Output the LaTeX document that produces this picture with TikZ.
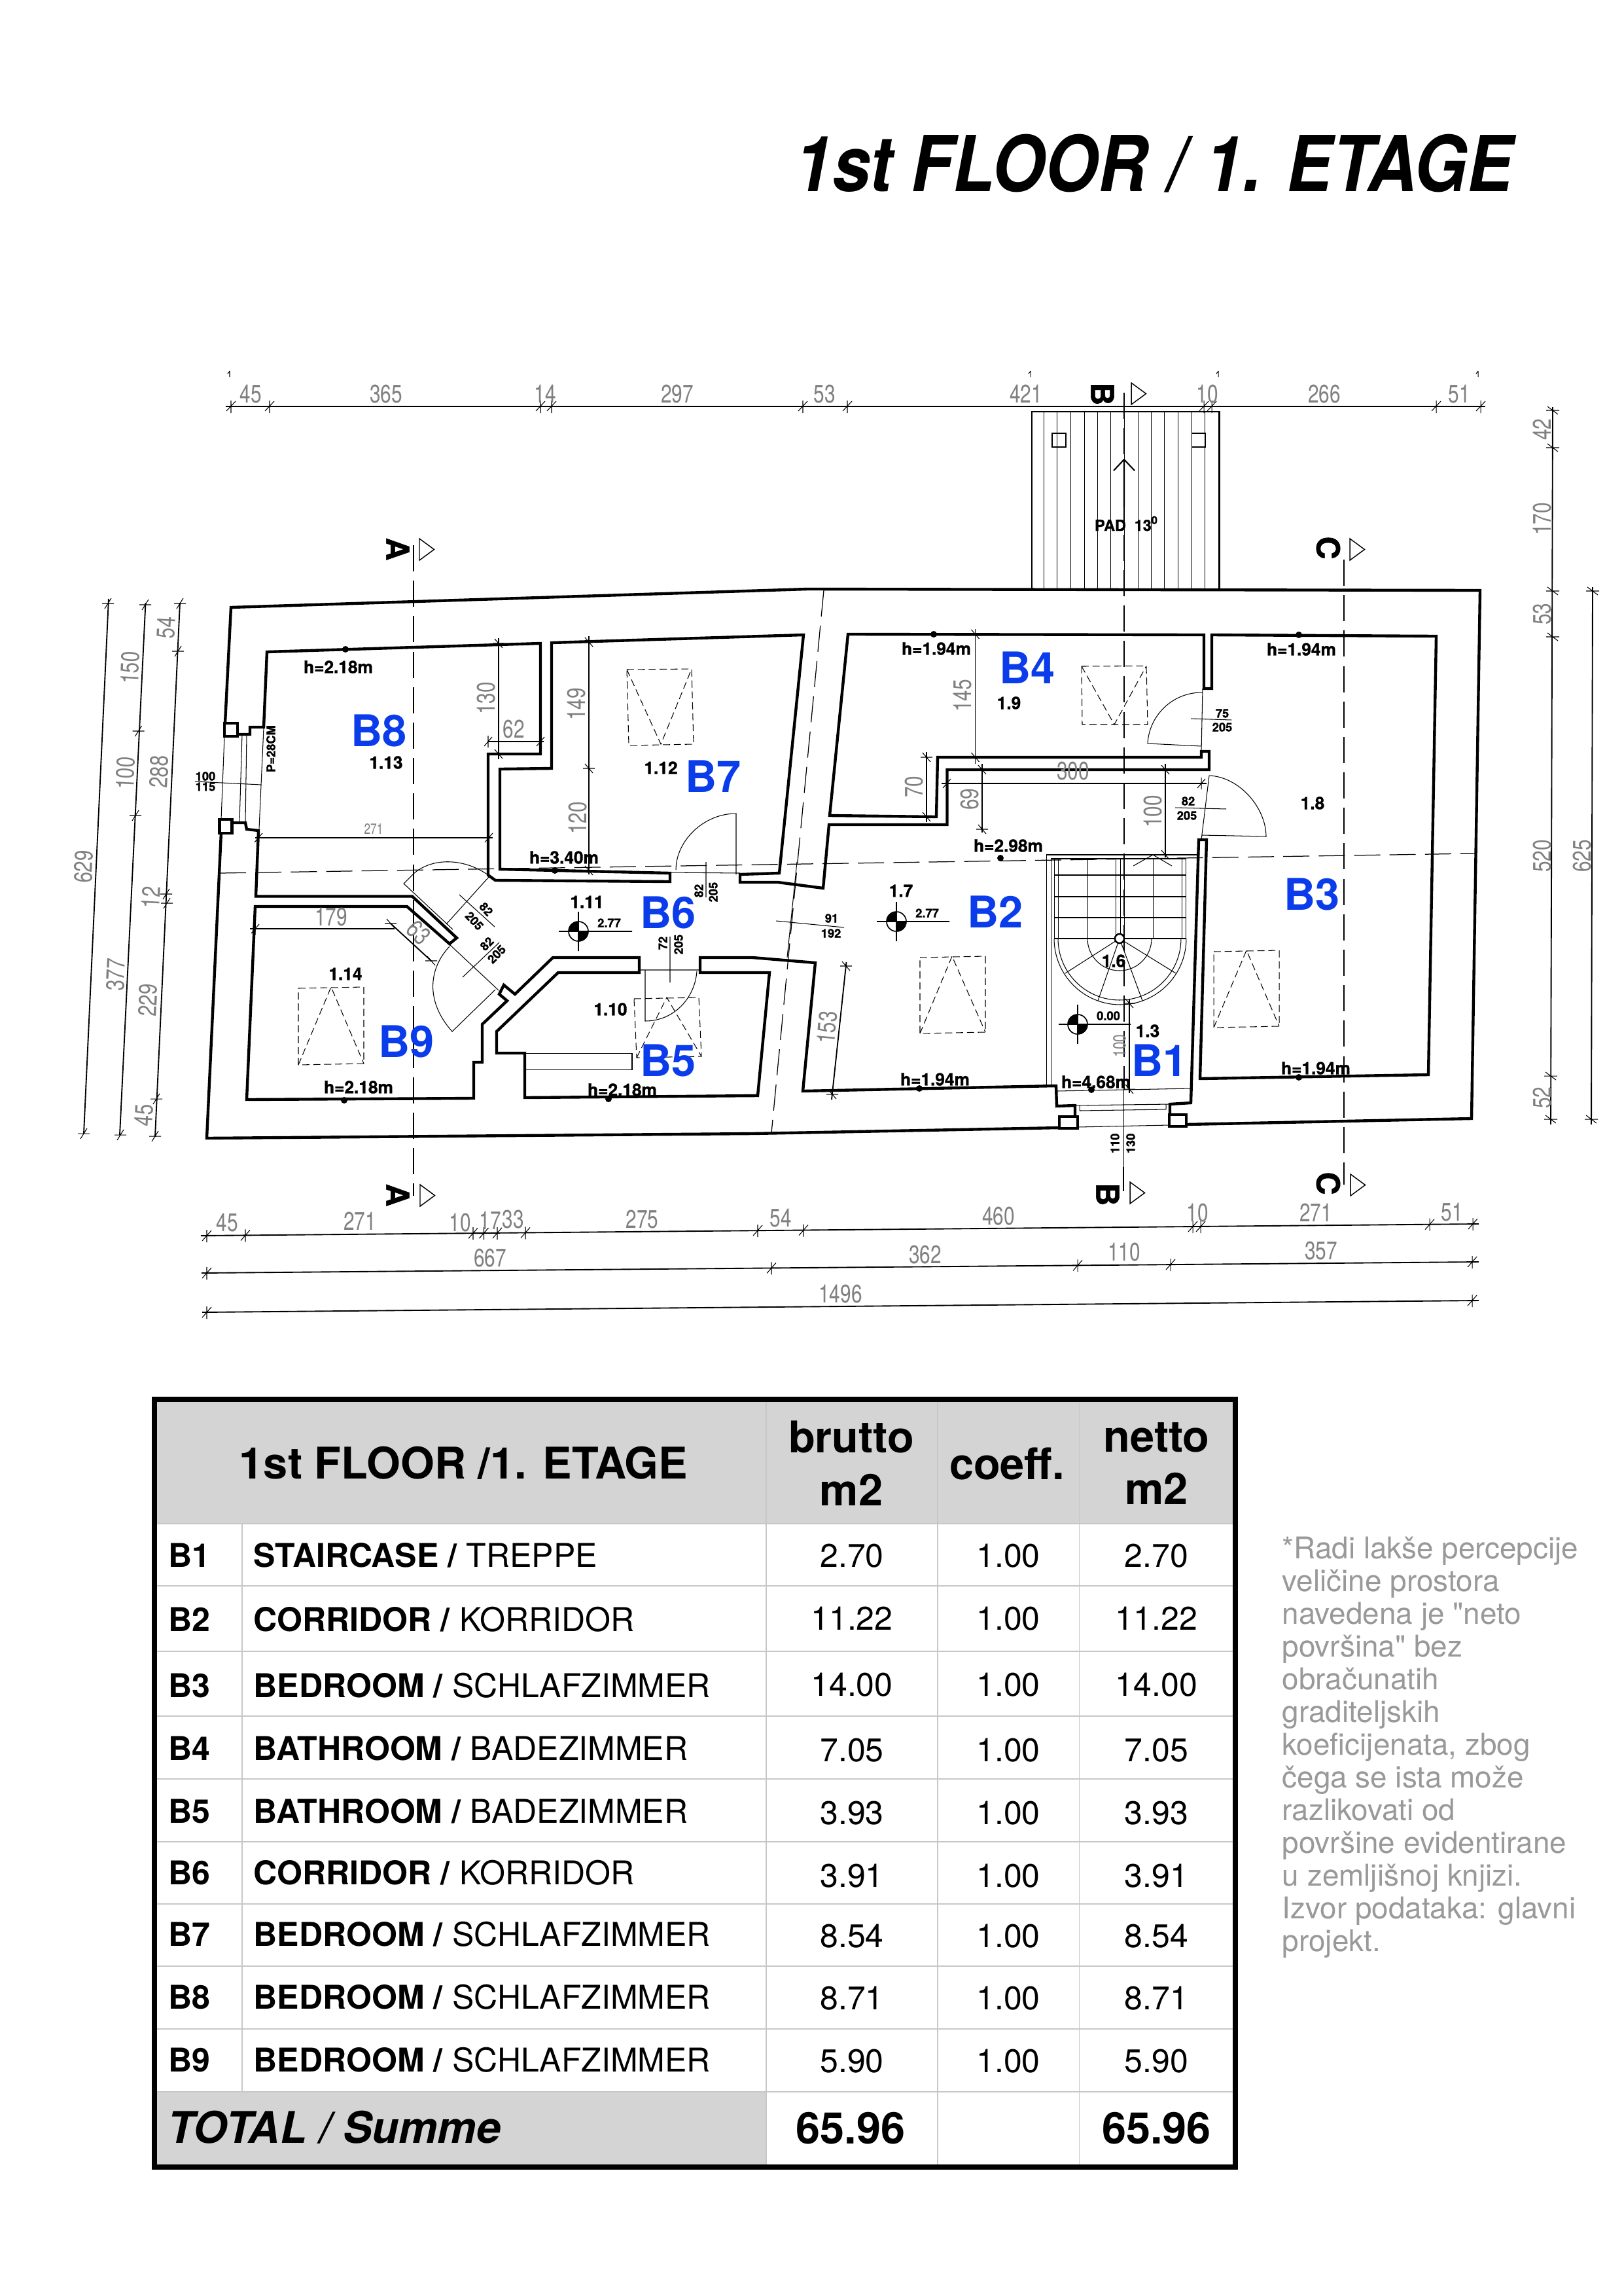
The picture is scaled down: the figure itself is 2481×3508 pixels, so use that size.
\documentclass[tikz,border=0pt]{standalone}
\usepackage{fontspec}
\setmainfont{TeX Gyre Heros}
\newfontfamily\notefont{TeX Gyre Heros}
\newfontfamily\cadfont[BoldFeatures={FakeBold=1.2}]{TeX Gyre Heros}
\begin{document}
\begin{tikzpicture}[x=0.23994pt,y=-0.23994pt]
\tikzstyle{wall}=[line width=1.05pt,line join=miter]
\tikzstyle{thinline}=[line width=.25pt]
\tikzstyle{dimline}=[line width=.45pt]
\tikzstyle{ticks}=[line width=.25pt]
\tikzstyle{cut}=[line width=.3pt,dash pattern=on 9.6pt off 3.4pt]
\tikzstyle{sky}=[line width=.25pt,dash pattern=on 2.6pt off 1.4pt]
\tikzstyle{dimtxt}[0]=[inner sep=0,rotate=#1,xscale=.77,transform shape,text=black!50,font=\fontsize{9.3}{10}\selectfont]
\tikzstyle{roomtag}=[inner sep=0,text={rgb,255:red,10;green,60;blue,235},font=\bfseries\fontsize{16}{18}\selectfont]
\tikzstyle{spot}=[inner sep=0,font=\cadfont\bfseries\fontsize{6.3}{7}\selectfont]
\tikzstyle{doorlbl}[0]=[inner sep=0,rotate=#1,font=\cadfont\bfseries\fontsize{4.4}{5}\selectfont]
\tikzstyle{seclbl}=[inner sep=0,rotate=-90,font=\cadfont\bfseries\fontsize{11.6}{12}\selectfont]
\tikzstyle{grid}=[line width=.3pt,draw=black!22]
\tikzstyle{rowtxt}=[inner sep=0,font=\fontsize{12}{14}\selectfont]
\tikzstyle{headtxt}=[inner sep=0,align=center,font=\bfseries\fontsize{16}{19.4}\selectfont]
\definecolor{cellgray}{RGB}{212,212,212}

\path[use as bounding box,fill=white] (0,0) rectangle (2481,3508);

\node[inner sep=0,anchor=east,xscale=.885,transform shape,font=\bfseries\itshape\fontsize{28.3}{30}\selectfont] (title) at (2313,250) {1st FLOOR / 1. ETAGE};

% terrace
\draw[thinline,line width=.35pt] (1577,629) rectangle (1864,901);
\foreach \x in {1595,1615,1636,1657,1677,1697,1718,1739,1759,1779,1800,1821,1841,1862}
  \draw[thinline] (\x,629) -- (\x,901);
\draw[thinline,line width=.4pt] (1608,662) rectangle (1629,683) (1821.5,662) rectangle (1842.6,683);
\draw[line width=.5pt] (1718,775) -- (1718,702) (1702,719) -- (1718,702) -- (1734,719);
\node[spot,font=\cadfont\bfseries\fontsize{5.6}{6}\selectfont] (pad) at (1722,800) {PAD\ \ 13\textsuperscript{0}};

% walls
\draw[wall] (344,1105) -- (353,928) -- (1234,900) -- (2262,902) -- (2249,1709) -- (1813,1718);
\draw[wall] (1620,1723) -- (1150,1732) -- (316,1739) -- (338,1272);
\draw[wall] (343,1105) rectangle (363,1125) (335.5,1252) rectangle (354.6,1273) (1619,1706) rectangle (1647,1724) (1787,1703) rectangle (1813,1721);
\draw[wall] (363,1122) -- (382,1122) -- (382,1111) -- (403,1111) -- (408,996) -- (826,983) -- (826,1152) -- (746,1152) -- (746,1337) -- (757,1345) -- (1024,1347) -- (1024,1334) -- (764,1328) -- (764,1175) -- (843,1174) -- (843,982) -- (1228,970) -- (1191,1334) -- (1131,1336) -- (1131,1348) -- (1189,1348) -- (1258,1357) -- (1267,1260) -- (1447.5,1260) -- (1447.5,1176) -- (1848,1176) -- (1848,1148) -- (1836,1148) -- (1836,1157) -- (1433,1157) -- (1431,1248) -- (1268,1246) -- (1296,969) -- (1840,970) -- (1840,1052) -- (1852,1052) -- (1852,970) -- (2195,972) -- (2183,1642) -- (1834,1648) -- (1844,1283) -- (1832,1283) -- (1820,1685) -- (1788,1687) -- (1788,1702);
\draw[wall] (1643,1706) -- (1643,1689) -- (1615,1690) -- (1614,1659) -- (1227,1667) -- (1246,1471) -- (1150,1463) -- (1070,1463) -- (1070,1486) -- (1176,1486) -- (1158,1674) -- (802,1677) -- (802,1609) -- (759,1609) -- (759,1576) -- (853,1486) -- (977,1486) -- (977,1463) -- (845,1463) -- (787,1519) -- (770,1505) -- (763,1519) -- (775,1529) -- (737,1565) -- (737,1623) -- (724,1623) -- (724,1678) -- (377,1680) -- (390,1385) -- (622,1385) -- (687,1442) -- (698,1433) -- (630,1369.5) -- (391,1369.5) -- (395,1269) -- (377,1267) -- (375,1257) -- (354,1257);
\draw[thinline] (803,1609) -- (966,1609) -- (966,1634) -- (803,1634);

% window and entrance
\draw[thinline] (338,1252) -- (343,1125) (366,1256) -- (370,1122) (375,1256) -- (377,1122) (403,1112) -- (396,1266);
\draw[thinline] (1643,1689) -- (1788,1687) (1650,1697) -- (1782,1695) (1650,1689) -- (1650,1697) (1782,1687) -- (1782,1695) (1647,1722) -- (1787,1719) (1615,1667) -- (1820,1663);

% doors
\draw[thinline] (1125,1336) -- (1125,1243) .. controls (1075,1243) and (1033,1285) .. (1033,1329) (1024,1333) -- (1131,1334);
\draw[thinline] (749,1339) .. controls (710,1310) and (660,1310) .. (632,1335) -- (617,1350) -- (692,1420) (682,1412) -- (747,1340);
\draw[thinline] (687,1443) -- (762,1513) (757,1512) -- (691,1576) .. controls (650,1530) and (655,1480) .. (687,1446);
\draw[thinline] (978,1482) -- (1070,1482) (986,1482) -- (986,1560) .. controls (1030,1560) and (1062,1525) .. (1065,1484);
\draw[thinline] (1838,1052) -- (1836,1148) (1836,1140) -- (1754,1136) .. controls (1756,1095) and (1790,1058) .. (1837,1058);
\draw[thinline] (1848,1185) -- (1836,1283) (1837,1276) -- (1935,1278) .. controls (1935,1235) and (1895,1187) .. (1848,1185);
\draw[thinline] (702,1367) -- (756,1416) (707,1493) -- (763,1440) (1079,1317) -- (1079,1371) (1024,1431) -- (1024,1501) (1820,1098) -- (1882,1100) (1796,1234) -- (1874,1236) (1186,1407) -- (1290,1417) (298,1194) -- (399,1199);
\node[doorlbl=-47] (dA) at (743,1389) {82};
\node[doorlbl=-47] (dB) at (725,1407) {205};
\node[doorlbl=45] (dC) at (744,1442) {82};
\node[doorlbl=45] (dD) at (759,1458) {205};
\node[doorlbl=90] (dE) at (1068,1361) {82};
\node[doorlbl=90] (dF) at (1090,1363) {205};
\node[doorlbl=90] (dG) at (1013,1441) {72};
\node[doorlbl=90] (dH) at (1037,1443) {205};
\node[doorlbl] (dI) at (1868,1090) {75};
\node[doorlbl] (dJ) at (1868,1111) {205};
\node[doorlbl] (dK) at (1816,1224) {82};
\node[doorlbl] (dL) at (1814,1246) {205};
\node[doorlbl] (dM) at (1271,1403) {91};
\node[doorlbl] (dN) at (1270,1426) {192};
\node[doorlbl] (dO) at (314,1186) {100};
\node[doorlbl] (dP) at (314,1202) {115};
\node[doorlbl=90] (pw) at (414,1144) {P=28CM};
\node[doorlbl=90] (dQ) at (1704,1747) {110};
\node[doorlbl=90] (dR) at (1728,1747) {130};

% roof windows
\draw[sky] (958,1023) -- (1057,1022) -- (1060,1137) -- (961,1139) -- cycle (958,1023) -- (1010,1137) -- (1057,1022);
\draw[sky] (456,1510) -- (556,1508) -- (556,1625) -- (456,1627) -- cycle (456,1627) -- (506,1508) -- (556,1625);
\draw[sky] (969,1526) -- (1068,1524) -- (1072,1614) -- (973,1616) -- cycle (973,1616) -- (1019,1524) -- (1072,1614);
\draw[sky] (1653,1018) -- (1752,1017.5) -- (1754,1107) -- (1654,1107) -- cycle (1653,1018) -- (1703,1107) -- (1752,1017.5);
\draw[sky] (1406,1463) -- (1506,1461) -- (1506,1577) -- (1406,1579) -- cycle (1406,1579) -- (1455,1461) -- (1506,1577);
\draw[sky] (1855,1454) -- (1955,1452) -- (1955,1568) -- (1855,1570) -- cycle (1855,1570) -- (1905,1452) -- (1955,1568);

% stairs
\draw[thinline] (1599,1658) -- (1599,1306) -- (1830,1306) (1606,1658) -- (1606,1312) -- (1611,1312);
\draw[thinline] (1611,1312) -- (1812,1312) (1611,1312) -- (1611,1434) (1617,1312) -- (1617,1434) (1812,1312) -- (1812,1434) (1806,1312) -- (1806,1434);
\foreach \y in {1337,1370,1402,1434} \draw[thinline] (1611,\y) -- (1812,\y);
\foreach \x in {1662,1705,1712,1718,1762} \draw[thinline] (\x,1312) -- (\x,1434);
\draw[thinline] (1611,1434) arc[start angle=180,end angle=360,radius=24.23pt];
\draw[thinline] (1617,1434) arc[start angle=180,end angle=360,radius=22.55pt];
\draw[thinline] (1662,1434) arc[start angle=180,end angle=360,radius=11.76pt];
\foreach \x/\y in {1628/1487,1678/1529,1746/1529,1797/1487} \draw[thinline] (1711,1434) -- (\x,\y);
\draw[line width=.6pt,fill=white] (1711,1434) circle[radius=1.7pt];
\draw[thinline] (1732,1323) -- (1762,1306) -- (1791,1323);

% cut lines
\draw[cut] (336,1334) -- (2254,1304);
\draw[cut] (1259,902) -- (1179,1731);
\draw[thinline] (1218,1317) -- (1203,1463);
\draw[cut] (632,833) -- (632,1827);
\draw[cut] (1718,600) -- (1718,1664);
\draw[thinline] (1717,1664) -- (1717,1783);
\draw[cut] (1717,1783) -- (1717,1820);
\draw[cut] (2054,855) -- (2054,1810);
\foreach \x/\y in {641/823,1729/585,2063/823,642/1810,1727/1806,2064/1794}
  \draw[thinline,line width=.35pt] (\x,\y) -- (\x,\y+33) -- (\x+22.5,\y+16.5) -- cycle;
\node[seclbl] (secA) at (608,839) {A};
\node[seclbl] (secB) at (1685,602) {B};
\node[seclbl] (secC) at (2030,837) {C};
\node[seclbl] (secAb) at (608,1826) {A};
\node[seclbl] (secBb) at (1693,1825) {B};
\node[seclbl] (secCb) at (2030,1808) {C};

% dimension lines on top
\draw[dimline] (345,620.7) -- (2270,620.7);
\foreach \x in {353,412,826,843,1227,1295,1840,1852,2195,2263}
  \draw[ticks] (\x,612) -- (\x,631) (\x-7,628) -- (\x+7,613);
\foreach \x in {351,1575,1862,2259}
  \draw[ticks] (\x,567) -- (\x,576) (\x-3,571) -- (\x,567);
\foreach \x/\t in {383/45,590/365,833/14,1035/297,1260/53,1568/421,1845/10,2024/266,2230/51}
  \node[dimtxt] (top\t) at (\x,602) {\t};

% dimension lines left
\draw[dimline] (166,915) -- (128,1732);
\draw[dimline] (222.5,921) -- (183,1734);
\draw[dimline] (275,921) -- (237,1737);
\foreach \x/\y in {165/922,128/1732,222/924,211.5/1117,207/1246,184/1734,275/922,272/995,254/1366,255/1380,239/1679,237/1736}
  \draw[ticks] (\x-9,\y) -- (\x+9,\y) (\x-5,\y+8) -- (\x+5,\y-8);
\foreach \x/\y/\t in {128/1324/629,199/1020/150,192/1181/100,177/1489/377,254/959/54,243/1179/288,231/1371/12,226/1528/229,220/1704/45}
  \node[dimtxt=87] (left\t) at (\x,\y) {\t};

% dimension lines right
\draw[dimline] (2373,622) -- (2370,1718);
\draw[dimline] (2434,897) -- (2432,1718);
\foreach \x/\y in {2373/627,2373/684,2373/903,2373/973,2370/1644,2370/1710,2434/903,2432/1710}
  \draw[ticks] (\x-10,\y) -- (\x+10,\y) (\x-8,\y-6) -- (\x+8,\y+6);
\foreach \x/\y/\t in {2357/656/42,2357/793/170,2357/938/53,2357/1308/520,2357/1677/52,2418/1308/625}
  \node[dimtxt=90] (right\t) at (\x,\y) {\t};

% dimension lines bottom
\draw[dimline] (307,1888) -- (2260,1870);
\draw[dimline] (308,1945) -- (2260,1928);
\draw[dimline] (309,2005) -- (2260,1987);
\foreach \x/\y in {316/1888,375/1887.4,723/1884.2,739.5/1884,760/1883.8,803/1883.4,1158/1880,1228/1879.5,1823/1874,1835/1874,2185/1870.7,2251/1870,316/1945,1179/1937.4,1647/1933.4,1789/1932,2250/1928,316/2005,2250/1987}
  \draw[ticks] (\x,\y-9) -- (\x,\y+10) (\x-7,\y+8) -- (\x+7,\y-8);
\foreach \x/\y/\t in {347/1868/45,550/1866/271,703/1868/10,749/1865/17,784/1863/33,981.5/1863/275,1193/1861/54,1526/1858/460,1830/1853/10,2011/1853/271,2219/1852/51,749/1922/667,1414/1917/362,1718/1913/110,2019/1911/357,1284.5/1977/1496}
  \node[dimtxt] (low\t) at (\x,\y) {\t};

% inner dimensions
\draw[dimline] (762,975) -- (762,1160);
\draw[dimline] (746,1133) -- (831,1133);
\draw[dimline] (900,972) -- (900,1336);
\draw[dimline] (390,1280) -- (753,1280);
\draw[dimline] (382,1419) -- (603,1419);
\draw[dimline] (597,1411) -- (659,1468);
\draw[dimline] (1490.5,961) -- (1490.5,1167);
\draw[dimline] (1416,1149) -- (1416,1256);
\draw[dimline] (1501,1167) -- (1501,1272);
\draw[dimline] (1439,1197) -- (1844,1197);
\draw[dimline] (1781,1167) -- (1781,1310);
\draw[dimline] (1293.5,1470) -- (1271,1680);
\draw[dimline] (1726,1527) -- (1726,1670);
\foreach \x/\y in {762/983,762/1152,900/981,900/1174,900/1330,1490.5/969,1490.5/1157,1416/1157,1416/1248,1501/1176,1501/1267,1781/1176,1781/1306,1726/1533,1726/1664,1293/1476,1272/1672,597/1411,659/1468}
  \draw[ticks] (\x-9,\y) -- (\x+9,\y) (\x-6,\y-7) -- (\x+6,\y+7);
\foreach \x/\y in {746/1133,826/1133,395/1280,747/1280,390/1419,1447/1197,1836/1197}
  \draw[ticks] (\x,\y-9) -- (\x,\y+9) (\x-6,\y+7) -- (\x+6,\y-7);
\foreach \x/\y/\t in {743/1067/130,881/1076/149,883/1250/120,1471/1063/145,1397/1202/70,1482.5/1221/69,1762/1240/100}
  \node[dimtxt=90] (in\t) at (\x,\y) {\t};
\foreach \x/\y/\t in {785/1114/62,506/1401/179,1640/1178/300}
  \node[dimtxt] (in\t) at (\x,\y) {\t};
\node[dimtxt,font=\fontsize{5.4}{6}\selectfont] (in271) at (571,1267) {271};
\node[dimtxt=85] (in153) at (1264,1570) {153};
\node[dimtxt=-45] (in63) at (640,1425) {63};
\node[dimtxt=90,font=\fontsize{6.5}{7}\selectfont] (stair100) at (1711,1598) {100};

% height points
\foreach \x/\y in {528/992,848/1330,526/1681,930/1679,1427/969,1985/970,1529/1311,1668/1665,1405/1663,1985/1646}
  \fill (\x,\y) circle[radius=1.2pt];
\foreach \x/\y/\i/\t in {517/1019/a/h=2.18m,862/1310/b/h=3.40m,548/1661/c/h=2.18m,951/1665/d/h=2.18m,1431/991/e/h=1.94m,1989/992/f/h=1.94m,1541/1292/g/h=2.98m,1675/1653/h/h=4.68m,1429/1649/i/h=1.94m,2011/1632/j/h=1.94m}
  \node[spot] (height\i) at (\x,\y) {\t};
\foreach \x/\y/\t in {590/1165/1.13,1010/1173/1.12,897/1378/1.11,528/1488/1.14,933/1542/1.10,1542/1074/1.9,2006/1227/1.8,1377/1361/1.7,1754/1575/1.3,1702/1468/1.6}
  \node[spot] (num\t) at (\x,\y) {\t};

% level marks
\foreach \x/\y/\l/\r/\t in {884/1423/30/82/2.77,1370/1408/30/81/2.77,1647/1565/29/81/0.00}{
  \draw[line width=.4pt] (\x-\l,\y) -- (\x+\r,\y) (\x,\y-30) -- (\x,\y+30) (\x,\y) circle[radius=3.6pt];
  \fill (\x,\y) -- ++(0,-15) arc[start angle=90,end angle=180,radius=3.6pt] -- cycle;
  \fill (\x,\y) -- ++(0,15) arc[start angle=270,end angle=360,radius=3.6pt] -- cycle;
  \node[doorlbl] (level\x) at (\x+47,\y-13) {\t};
}

% rooms
\foreach \x/\y/\t in {1772/1620/B1,1521/1393/B2,2005/1366/B3,1570/1020/B4,1021/1620/B5,1021/1394/B6,1090/1186/B7,579/1116/B8,621/1591/B9}
  \node[roomtag] (\t) at (\x,\y) {\t};

% table
\fill[cellgray] (236,2138) rectangle (1888,2328);
\fill[cellgray] (236,3196) rectangle (1171,3311);
\foreach \y in {2423,2523,2622,2718,2814,2909,3004,3100} \draw[grid] (236,\y) -- (1888,\y);
\draw[grid] (236,2328) -- (1888,2328) (236,3196) -- (1888,3196);
\draw[grid] (370,2328) -- (370,3196);
\foreach \x in {1171,1433,1649.5} \draw[grid] (\x,2138) -- (\x,3311);
\draw[line width=2.1pt] (236,2138) rectangle (1888,3311);
\node[headtxt] (headfloor) at (708.6,2235) {1st FLOOR /1. ETAGE};
\node[headtxt] (headbrutto) at (1301,2236) {brutto\\m2};
\node[headtxt] (headcoeff) at (1539,2236) {coeff.};
\node[headtxt] (headnetto) at (1767.5,2236) {netto\\m2};
\foreach \n/\y/\yv/\en/\de/\b in {1/2376/2377/STAIRCASE/TREPPE/2.70,2/2474/2473/CORRIDOR/KORRIDOR/11.22,3/2575/2574/BEDROOM/SCHLAFZIMMER/14.00,4/2671/2674/BATHROOM/BADEZIMMER/7.05,5/2767/2770/BATHROOM/BADEZIMMER/3.93,6/2861/2866/CORRIDOR/KORRIDOR/3.91,7/2955/2958/BEDROOM/SCHLAFZIMMER/8.54,8/3051/3053/BEDROOM/SCHLAFZIMMER/8.71,9/3147/3149/BEDROOM/SCHLAFZIMMER/5.90}{
  \node[rowtxt,anchor=west] (rowtag\n) at (257,\y) {\textbf{B\n}};
  \node[rowtxt,anchor=west] (rowname\n) at (387,\y) {\textbf{\en\ /} \de};
  \node[rowtxt] (rowb\n) at (1302,\yv) {\b};
  \node[rowtxt] (rowc\n) at (1541,\yv) {1.00};
  \node[rowtxt] (rown\n) at (1767.5,\yv) {\b};
}
\node[headtxt,anchor=west,font=\bfseries\itshape\fontsize{16}{18}\selectfont] (total) at (256,3250) {TOTAL / Summe};
\node[headtxt] (totalb) at (1300,3252) {65.96};
\node[headtxt] (totaln) at (1767.5,3252) {65.96};

\node[inner sep=0,anchor=north west,align=left,text=black!40,font=\notefont\fontsize{11}{12}\selectfont] (note) at (1959,2347) {*Radi lakše percepcije\\veličine prostora\\navedena je "neto\\površina" bez\\obračunatih\\graditeljskih\\koeficijenata, zbog\\čega se ista može\\razlikovati od\\površine evidentirane\\u zemljišnoj knjizi.\\Izvor podataka: glavni\\projekt.};

\end{tikzpicture}
\end{document}
